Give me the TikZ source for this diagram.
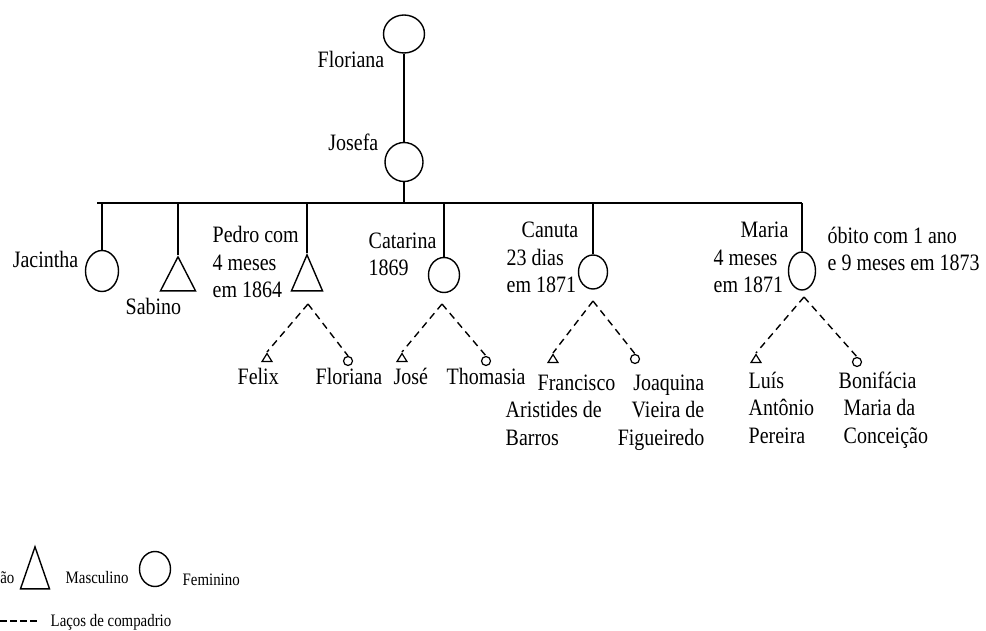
\documentclass[tikz,border=0pt]{standalone}
\usepackage{fontspec}
\setmainfont{Liberation Serif}[FakeStretch=0.85]
\usetikzlibrary{shapes.geometric}

\begin{document}
\begin{tikzpicture}[x=1pt,y=-1pt,line width=1.4pt,
    fem/.style={draw,ellipse,inner sep=0pt,minimum width=31pt,minimum height=35pt},
    masc/.style={draw,isosceles triangle,isosceles triangle stretches,shape border rotate=90,
      inner sep=0pt,minimum width=34pt,minimum height=35pt},
    sfem/.style={draw,circle,inner sep=0pt,minimum size=9pt,line width=1.2pt},
    smasc/.style={masc,minimum width=10pt,minimum height=8pt,line width=1.2pt},
    nome/.style={inner sep=0pt,align=left,font=\fontsize{23.5}{27.5}\selectfont},
    leg/.style={inner sep=0pt,font=\fontsize{17.5}{20}\selectfont},
    compadrio/.style={dash pattern=on 7pt off 5pt}]
\useasboundingbox (0,0) rectangle (986,631);

% avo e mae
\node[fem,minimum width=41pt,minimum height=38pt] (flo) at (404,34) {};
\node[nome,anchor=base east] (floN) at (385,68) {Floriana};
\node[fem,minimum width=38pt,minimum height=39pt] (jos) at (404,162) {};
\node[nome,anchor=base east] (josN) at (379,151) {Josefa};
\draw (flo) -- (jos);

% filhos
\coordinate (barW) at (97,203);
\coordinate (barE) at (802,203);
\draw (barW) -- (barE);
\draw (jos.south) -- (jos.south |- barW);

\node[fem,minimum width=33pt,minimum height=41pt] (jac) at (102,271) {};
\node[masc,anchor=apex,minimum width=35pt,minimum height=34pt] (sab) at (178,255) {};
\node[masc,anchor=apex,minimum width=31pt,minimum height=36pt] (ped) at (307,253) {};
\node[fem] (cat) at (444,275) {};
\node[fem,minimum width=29pt,minimum height=34pt] (can) at (593,272) {};
\node[fem,minimum width=27pt,minimum height=38pt] (mar) at (802,271) {};
\foreach \k/\a in {jac/north,sab/apex,ped/apex,cat/north,can/north,mar/north}
  \draw (\k.\a |- barW) -- (\k.\a);

% (base = ultima linha)
\node[nome,anchor=base east] (jacN) at (79,268) {Jacintha};
\node[nome,anchor=base west] (sabN) at (125,315) {Sabino};
\node[nome,anchor=base west] (pedN) at (212,298) {Pedro com\\4 meses\\em 1864};
\node[nome,anchor=base west] (catN) at (368,276) {Catarina\\1869};
\node[nome,anchor=base west] (canN) at (506,293) {\hspace*{15pt}Canuta\\23 dias\\em 1871};
\node[nome,anchor=base west] (marN) at (713,293) {\hspace*{27pt}Maria\\4 meses\\em 1871};
\node[nome,anchor=base west] (obito) at (827,271) {óbito com 1 ano\\e 9 meses em 1873};

% padrinhos
\coordinate (cpped) at (308,304);
\coordinate (cpcat) at (442,304);
\coordinate (cpcan) at (593,301);
\coordinate (cpmar) at (804,297);
\node[smasc,anchor=apex] (fel) at (267,352) {};
\node[sfem] (flo2) at (348,361) {};
\node[smasc,anchor=apex] (jse) at (402,352) {};
\node[sfem] (tho) at (486,361) {};
\node[smasc,anchor=apex] (fra) at (553,353) {};
\node[sfem] (joa) at (635,359) {};
\node[smasc,anchor=apex] (lui) at (756,353) {};
\node[sfem] (bon) at (857,362) {};
\foreach \p/\t/\c in {ped/fel/flo2,cat/jse/tho,can/fra/joa,mar/lui/bon}{
  \draw[compadrio] (cp\p) -- (\t.apex);
  \draw[compadrio] (cp\p) -- (\c.north);
}

\node[nome,anchor=base west] (felN) at (237,384) {Felix};
\node[nome,anchor=base west] (flo2N) at (315,384) {Floriana};
\node[nome,anchor=base west] (jseN) at (393,384) {José};
\node[nome,anchor=base west] (thoN) at (446,384) {Thomasia};
\node[nome,anchor=base west] (fraN) at (505,445) {\hspace*{32pt}Francisco\\Aristides de\\Barros};
\node[nome,anchor=base east,align=right] (joaN) at (705,445) {Joaquina\\Vieira de\\Figueiredo};
\node[nome,anchor=base west] (luiN) at (748,443) {Luís\\Antônio\\Pereira};
\node[nome,anchor=base west] (bonN) at (838,443) {Bonifácia\\\hspace*{5pt}Maria da\\\hspace*{5pt}Conceição};

% legenda
\node[leg,anchor=base east] (legA) at (15,583) {ão};
\node[masc,anchor=apex,minimum width=29pt,minimum height=42pt] (legM) at (35,545) {};
\node[leg,anchor=base west] (legMN) at (65,583) {Masculino};
\node[fem] (legF) at (155,569) {};
\node[leg,anchor=base west] (legFN) at (182,585) {Feminino};
\coordinate (legC1) at (0,621);
\coordinate (legC2) at (37,621);
\draw[dash pattern=on 7pt off 3pt] (legC1) -- (legC2);
\node[leg,anchor=base west] (legCN) at (50,626) {Laços de compadrio};
\end{tikzpicture}
\end{document}
